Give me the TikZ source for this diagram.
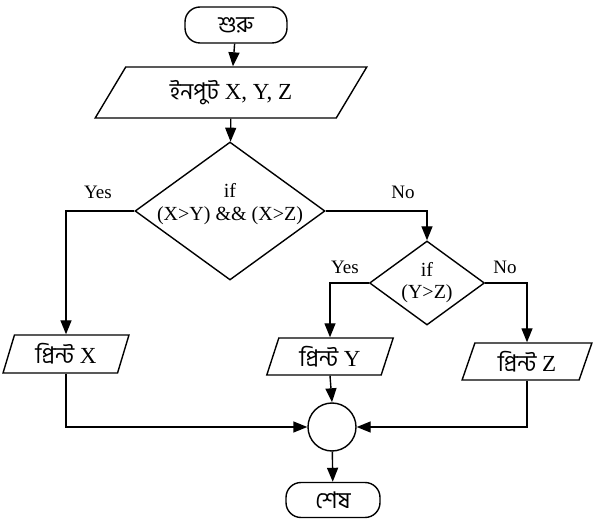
\documentclass[tikz,border=0pt]{standalone}
\usepackage{fontspec}
\setmainfont{Liberation Serif}
\newfontfamily\bn[Script=Bengali]{Hind Siliguri}
\usetikzlibrary{shapes.geometric,arrows.meta}
\begin{document}
\begin{tikzpicture}[x=1pt,y=-1pt,
  every node/.style={font=\fontsize{20}{23}\selectfont},
  ln/.style={line width=1.4pt},
  arr/.style={ln, -{Triangle[length=14pt,width=11pt]}},
  term/.style={draw, ln, rounded corners=15pt, minimum width=#1, minimum height=36pt, inner sep=0pt, font=\bn\fontsize{23}{25}\selectfont},
  io/.style n args={3}{draw, ln, trapezium, trapezium stretches=true, trapezium left angle=#1, trapezium right angle=#2, minimum width=#3, inner sep=0pt, font=\fontsize{23}{25}\selectfont},
  dia/.style={draw, ln, diamond, inner sep=0pt},
  lab/.style={font=\fontsize{19}{21}\selectfont, inner sep=0pt},
  junction/.style={draw, ln, circle, minimum size=48pt, inner sep=0pt}
]
\useasboundingbox (0,0) rectangle (597,521);

\node[term=102pt] (start) at (236,25) {শুরু};
\node[io={54}{126}{272pt}, minimum height=51pt] (inp) at (231,92.5) {{\bn ইনপুট} X, Y, Z};
\node[dia, minimum width=190pt, minimum height=138pt,
  label={[align=center, font=\fontsize{20}{23}\selectfont, yshift=7pt]center:{if\\(X>Y) \&\& (X>Z)}}] (d1) at (230,211) {};
\node[dia, minimum width=115pt, minimum height=84pt,
  label={[align=center, font=\fontsize{20}{22}\selectfont]center:{if\\(Y>Z)}}] (d2) at (427,283) {};
\node[io={72}{108}{126pt}, minimum height=38pt] (px) at (66,354) {{\bn প্রিন্ট} X};
\node[io={71}{109}{127pt}, minimum height=37pt] (py) at (330,356.5) {{\bn প্রিন্ট} Y};
\node[io={71}{109}{130pt}, minimum height=37pt] (pz) at (527,361.5) {{\bn প্রিন্ট} Z};
\node[junction] (j) at (332,427) {};
\node[term=94pt, minimum height=35pt] (stop) at (333,500) {শেষ};

\node[lab] (yes1) at (98,192) {Yes};
\node[lab] (no1) at (403,192) {No};
\node[lab] (yes2) at (345,267) {Yes};
\node[lab] (no2) at (505,267) {No};

\draw[arr] (start) -- (inp);
\draw[arr] (inp) -- (d1);
\draw[arr] (d1.west) -| (px.north);
\draw[arr] (d1.east) -| (d2.north);
\draw[arr] (d2.west) -| (py.north);
\draw[arr] (d2.east) -| (pz.north);
\draw[arr] (px.south) |- (j.west);
\draw[arr] (py.south) -- (j.north);
\draw[arr] (pz.south) |- (j.east);
\draw[arr] (j) -- (stop);
\end{tikzpicture}
\end{document}
